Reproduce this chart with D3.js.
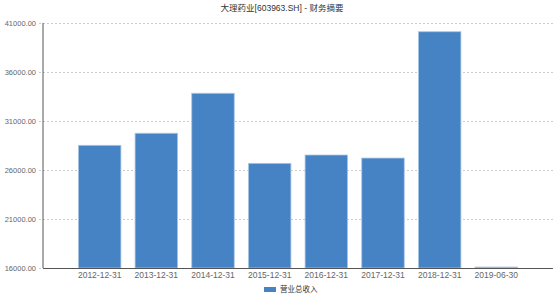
<!DOCTYPE html>
<html>
<head>
<meta charset="utf-8">
<script src="https://cdn.jsdelivr.net/npm/d3@7"></script>
<style>
  body { margin: 0; background: #fff; }
  svg { display: block; font-family: "Liberation Sans", "Noto Sans CJK SC", sans-serif; }
  .grid line { stroke: #ccc; stroke-dasharray: 2,2; }
  .grid path { display: none; }
</style>
</head>
<body>
<div id="container"></div>
<script>
// chart data
const title = "大理药业[603963.SH] - 财务摘要";
const seriesName = "营业总收入";
const dates = ["2012-12-31", "2013-12-31", "2014-12-31", "2015-12-31",
  "2016-12-31", "2017-12-31", "2018-12-31", "2019-06-30"];
const revenue = [28520, 29750, 33830, 26680, 27530, 27220, 40110, 16100];
const yTicks = [16000, 21000, 26000, 31000, 36000, 41000];

const width = 554;
const height = 298;
const margin = { top: 23, right: 1, bottom: 30, left: 43 };

const svg = d3
  .select("#container")
  .append("svg")
  .attr("width", width)
  .attr("height", height);

const xScale = d3
  .scaleBand()
  .domain(dates)
  .range([margin.left, width - margin.right])
  .paddingInner(0.25)
  .paddingOuter(0.625);

const yScale = d3
  .scaleLinear()
  .domain([16000, 41000])
  .range([height - margin.bottom, margin.top]);

// dashed grid
svg
  .append("g")
  .attr("class", "grid")
  .attr("transform", `translate(${width - margin.right}, 0)`)
  .call(d3.axisLeft(yScale).tickValues(yTicks).tickSize(width - margin.right - 37).tickFormat(""));

// y labels
svg
  .append("g")
  .selectAll("text")
  .data(yTicks)
  .enter()
  .append("text")
  .attr("x", 36)
  .attr("y", (d) => yScale(d))
  .attr("dy", "0.35em")
  .attr("text-anchor", "end")
  .attr("fill", "#666")
  .style("font-size", "7.5px")
  .text((d) => d3.format(".2f")(d));

// bars
svg
  .selectAll(".bar")
  .data(revenue)
  .enter()
  .append("rect")
  .attr("class", "bar")
  .attr("x", (d, i) => xScale(dates[i]))
  .attr("width", xScale.bandwidth())
  .attr("y", (d) => yScale(d))
  .attr("height", (d) => yScale(16000) - yScale(d))
  .attr("fill", "#4683c4")
  .attr("stroke", "#a9c7e6")
  .attr("stroke-width", 0.8);

// axes lines
svg
  .append("line")
  .attr("x1", margin.left)
  .attr("x2", margin.left)
  .attr("y1", margin.top)
  .attr("y2", yScale(16000))
  .attr("stroke", "#555")
  .attr("stroke-width", 1);

svg
  .append("line")
  .attr("x1", margin.left)
  .attr("x2", width - margin.right)
  .attr("y1", yScale(16000) + 0.5)
  .attr("y2", yScale(16000) + 0.5)
  .attr("stroke", "#555")
  .attr("stroke-width", 1);

// x labels
svg
  .append("g")
  .selectAll("text")
  .data(dates)
  .enter()
  .append("text")
  .attr("x", (d) => xScale(d) + xScale.bandwidth() / 2)
  .attr("y", yScale(16000) + 7)
  .attr("dy", "0.35em")
  .attr("text-anchor", "middle")
  .attr("fill", "#666")
  .style("font-size", "8.5px")
  .text((d) => d);

// title
svg
  .append("text")
  .attr("x", 282)
  .attr("y", 8)
  .attr("dy", "0.35em")
  .attr("text-anchor", "middle")
  .attr("fill", "#333")
  .style("font-size", "8.5px")
  .text(title);

// legend
svg
  .append("rect")
  .attr("x", 264)
  .attr("y", 287)
  .attr("width", 12)
  .attr("height", 5)
  .attr("fill", "#4683c4");

svg
  .append("text")
  .attr("x", 280)
  .attr("y", 289.5)
  .attr("dy", "0.35em")
  .attr("fill", "#333")
  .style("font-size", "7.5px")
  .text(seriesName);
</script>
</body>
</html>
